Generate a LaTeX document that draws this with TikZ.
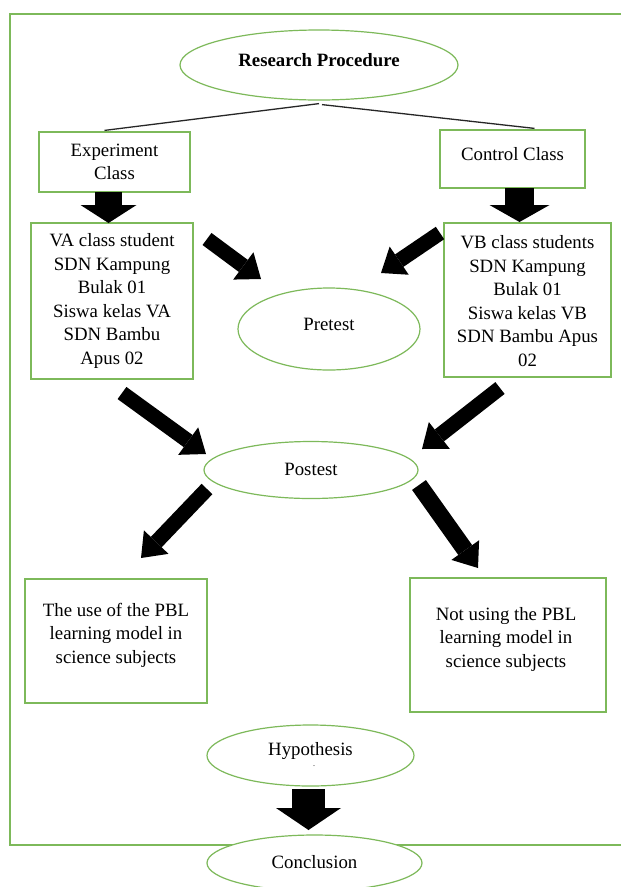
\documentclass[tikz,border=0pt]{standalone}
\usepackage{fontspec}
\setmainfont{Liberation Serif}
\usetikzlibrary{shapes.geometric,arrows.meta,calc}
\definecolor{gr}{RGB}{125,185,90}
\begin{document}
\begin{tikzpicture}[x=1pt,y=-1pt,
  gbox/.style={draw=gr, line width=1.2pt, rectangle, inner sep=0pt, fill=white},
  gell/.style={draw=gr, line width=1.2pt, ellipse, inner sep=0pt, fill=white},
  txt/.style={font=\fontsize{18.8}{23.5}\selectfont, align=center, inner sep=0pt},
  thin/.style={draw=black!85, line width=1.3pt},
  blk/.style n args={4}{draw=black, line width=#1, -{Triangle[length=#2,width=#3,line width=0pt]}, shorten <=#4}
]
\useasboundingbox[fill=white] (0,0) rectangle (621,887);

% frame
\draw[gr, line width=1.2pt] (621,14) -- (10,14) -- (10,845) -- (621,845);

% nodes
\node[gell, minimum width=278pt, minimum height=70pt] (rp) at (319,65) {};
\node[txt, font=\fontsize{18.8}{23.5}\selectfont\bfseries] (rp-t) at (319,60) {Research Procedure};

\node[gbox, minimum width=151pt, minimum height=60pt] (exp) at (114.5,162) {};
\node[txt] (exp-t) at (114.5,162) {Experiment\\Class};

\node[gbox, minimum width=145pt, minimum height=58pt] (ctl) at (512.5,159) {};
\node[txt] (ctl-t) at (512.5,154) {Control Class};

\node[gbox, minimum width=162pt, minimum height=156pt] (va) at (112,301) {};
\node[txt] (va-t) at (112,301) {VA class student\\SDN Kampung\\Bulak 01\\Siswa kelas VA\\SDN Bambu\\Apus 02};

\node[gbox, minimum width=167pt, minimum height=154pt] (vb) at (527.5,300) {};
\node[txt] (vb-t) at (527.5,301) {VB class students\\SDN Kampung\\Bulak 01\\Siswa kelas VB\\SDN Bambu Apus\\02};

\node[gell, minimum width=182pt, minimum height=82pt] (pre) at (329,329) {};
\node[txt] (pre-t) at (329,324) {Pretest};

\node[gell, minimum width=214pt, minimum height=57pt] (post) at (311,470) {};
\node[txt] (post-t) at (311,469) {Postest};

\node[gbox, minimum width=182pt, minimum height=124pt] (pbl) at (116,641) {};
\node[txt] (pbl-t) at (116,635) {The use of the PBL\\learning model in\\science subjects};

\node[gbox, minimum width=196pt, minimum height=134pt] (npbl) at (508,645) {};
\node[txt] (npbl-t) at (506,639) {Not using the PBL\\learning model in\\science subjects};

\node[gell, minimum width=207pt, minimum height=61pt] (hyp) at (310.5,755.5) {};
\node[txt] (hyp-t) at (310.5,751) {Hypothesis};
\node[font=\fontsize{8}{8}\selectfont, inner sep=0pt] (hyp-d) at (314,766) {.};

\node[gell, minimum width=215pt, minimum height=56pt] (con) at (314.5,863) {};
\node[txt] (con-t) at (314.5,862) {Conclusion};

% thin connectors
\draw[thin] ([yshift=-3pt]rp.south) -- ([xshift=-10pt,yshift=1pt]exp.north);
\draw[thin] ([xshift=3pt,yshift=-4pt]rp.south) -- ([xshift=22pt,yshift=1pt]ctl.north);

% block arrows (coordinates)
\coordinate (a1s) at (108.5,192);   \coordinate (a1e) at (108.5,223);
\coordinate (a2s) at (519.5,188);   \coordinate (a2e) at (519.5,222);
\coordinate (a3s) at (207,239);     \coordinate (a3e) at (261,279);
\coordinate (a4s) at (440,233);     \coordinate (a4e) at (381,273);
\coordinate (a5s) at (122,393);     \coordinate (a5e) at (206,454);
\coordinate (a6s) at (500,388);     \coordinate (a6e) at (422,449);
\coordinate (a7s) at (207,489);     \coordinate (a7e) at (141,558);
\coordinate (a8s) at (419,485);     \coordinate (a8e) at (478,568);
\coordinate (a9s) at (308.5,789);   \coordinate (a9e) at (308.5,830);

\draw[blk={27pt}{18pt}{56pt}{0pt}] (a1s) -- (a1e);
\draw[blk={29pt}{17pt}{60pt}{0pt}] (a2s) -- (a2e);
\draw[blk={15pt}{22pt}{34pt}{0pt}] (a3s) -- (a3e);
\draw[blk={15pt}{22pt}{34pt}{0pt}] (a4s) -- (a4e);
\draw[blk={15pt}{22pt}{34pt}{0pt}] (a5s) -- (a5e);
\draw[blk={15pt}{22pt}{34pt}{0pt}] (a6s) -- (a6e);
\draw[blk={15pt}{22pt}{34pt}{0pt}] (a7s) -- (a7e);
\draw[blk={17pt}{22pt}{34pt}{0pt}] (a8s) -- (a8e);
\draw[blk={33pt}{22pt}{65pt}{0pt}] (a9s) -- (a9e);
\end{tikzpicture}
\end{document}
